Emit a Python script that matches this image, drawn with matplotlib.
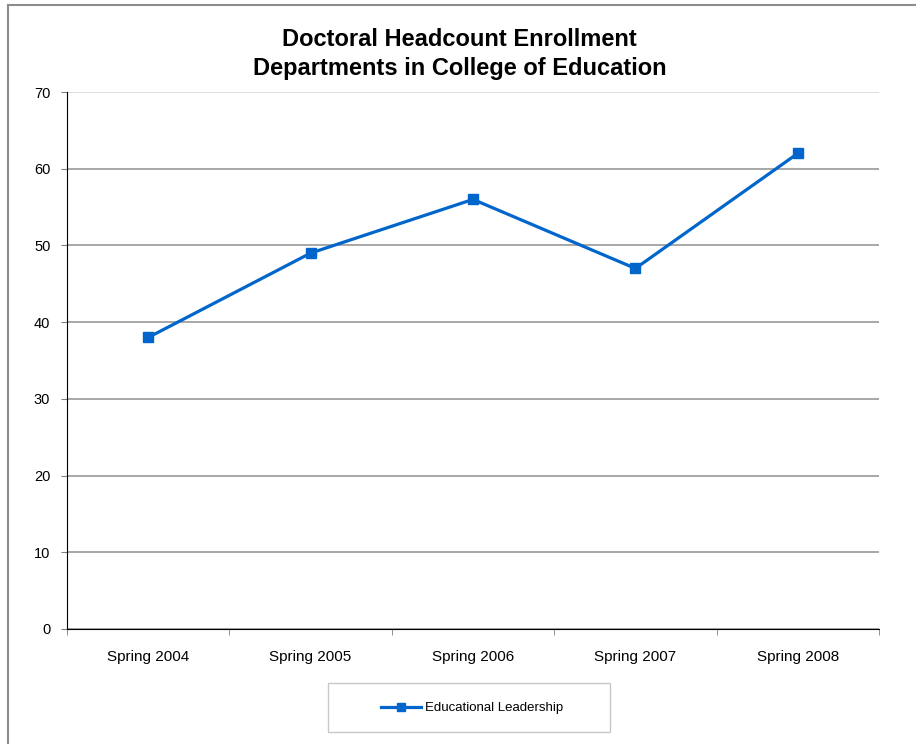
import matplotlib.pyplot as plt
from matplotlib.lines import Line2D
from matplotlib.patches import Rectangle

plt.rcParams['font.family'] = ['Liberation Sans', 'DejaVu Sans']

categories = ['Spring 2004', 'Spring 2005', 'Spring 2006', 'Spring 2007', 'Spring 2008']
enrollment = [38, 49, 56, 47, 62]
series_name = 'Educational Leadership'
y_ticks = [0, 10, 20, 30, 40, 50, 60, 70]

fig = plt.figure(figsize=(9.16, 7.44), dpi=100)
ax = fig.add_axes([67 / 916, 1 - 629 / 744, 812 / 916, 537 / 744])

# outer chart border (cut off at right and bottom like the reference)
fig.add_artist(Line2D([8 / 916, 8 / 916], [0, 1 - 5 / 744], transform=fig.transFigure,
                      color='#8c8c8c', lw=1.5))
fig.add_artist(Line2D([8 / 916, 1], [1 - 5 / 744, 1 - 5 / 744], transform=fig.transFigure,
                      color='#8c8c8c', lw=1.5))

x = list(range(len(categories)))
ax.plot(x, enrollment, color='#0066CC', lw=2.3, marker='s', markersize=7,
        label=series_name, zorder=3)

ax.set_xlim(-0.5, len(categories) - 0.5)
ax.set_ylim(0, 70)
ax.set_yticks(y_ticks)
ax.set_xticks(x)
ax.set_xticklabels(categories, fontsize=11)
ax.set_xticks([i - 0.5 for i in range(len(categories) + 1)], minor=True)
ax.tick_params(axis='x', which='major', length=0, pad=15)
ax.tick_params(axis='x', which='minor', length=4, direction='out', color='#808080')
ax.tick_params(axis='y', length=4, direction='out', color='#808080', labelsize=10.5, pad=8)

ax.yaxis.grid(True, color='#a0a0a0', lw=1.3)
ax.get_ygridlines()[-1].set_color('#dcdcdc')
ax.set_axisbelow(True)
for side in ['top', 'right']:
    ax.spines[side].set_visible(False)
ax.spines['left'].set_color('black')
ax.spines['bottom'].set_color('black')

fig.text(0.502, 1 - 54 / 744, 'Doctoral Headcount Enrollment\nDepartments in College of Education',
         ha='center', va='center', fontsize=17, fontweight='bold', linespacing=1.32)

# legend box drawn separately to get the wide padding
fig.add_artist(Rectangle((328 / 916, 1 - 732 / 744), 282 / 916, 49 / 744,
                         transform=fig.transFigure, fill=False, edgecolor='#c8c8c8', lw=1.0))
fig.legend(loc='center', bbox_to_anchor=(472 / 916, 1 - 708 / 744), fontsize=9.5,
           frameon=False, handlelength=3.0, borderaxespad=0, handletextpad=0.3,
           markerscale=0.8)

fig.savefig('out.png', dpi=100)
